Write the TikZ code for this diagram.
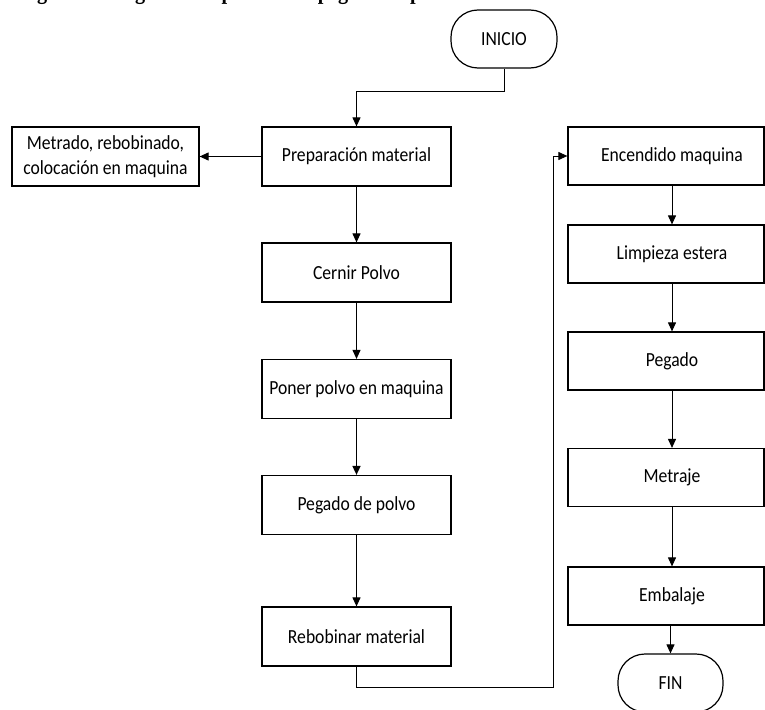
\documentclass[tikz,border=0pt]{standalone}
\usepackage{fontspec}
\setmainfont{Carlito}[FakeStretch=0.88]
\newfontfamily\titlefont{Liberation Serif}[FakeStretch=0.88]
\usetikzlibrary{arrows.meta}

\tikzset{
  box/.style={draw, line width=1.2pt, minimum width=189pt, minimum height=59pt,
    inner sep=2pt, align=center, font=\fontsize{20}{25}\selectfont},
  rbox/.style={box, minimum width=196pt, minimum height=58pt,
    execute at begin node={\hspace*{12pt}}},
  term/.style={draw, line width=1.2pt, rounded corners=27pt, minimum width=106pt,
    minimum height=58pt, font=\fontsize{20}{25}\selectfont},
  arr/.style={line width=1pt, -{Triangle[length=9pt,width=8pt]}},
}

\begin{document}
\begin{tikzpicture}[x=1pt, y=-1pt]
\useasboundingbox (0,0) rectangle (765,709);
\clip (0,0) rectangle (765,709);

% caption line above the chart
\node[anchor=base west, inner sep=0pt, font=\titlefont\bfseries\fontsize{23}{28}\selectfont]
  (title) at (19,-0.5) {Figura 1. Diagrama de proceso de pegado de polvo};

% start
\node[term] (ini) at (504,39) {INICIO};

% left column
\node[box] (prep) at (356.5,156.5) {Preparación material};
\node[box, minimum width=187pt] (metr) at (105.5,156.5) {Metrado, rebobinado,\\colocación en maquina};
\node[box] (cern) at (356.5,272.5) {Cernir Polvo};
\node[box] (pone) at (356.5,389) {Poner polvo en maquina};
\node[box] (pegp) at (356.5,505) {Pegado de polvo};
\node[box] (rebo) at (356.5,636.5) {Rebobinar material};

% right column
\node[rbox] (ence) at (666,156) {Encendido maquina};
\node[rbox] (limp) at (666,254) {Limpieza estera};
\node[rbox] (pega) at (666,361) {Pegado};
\node[rbox] (metj) at (666,477.5) {Metraje};
\node[rbox] (emba) at (666,596) {Embalaje};
\node[term, minimum width=105pt] (fin) at (670.5,683) {FIN};

% connectors
\draw[arr] (ini.south) -- ++(0,23) -| (prep.north);
\draw[arr] (prep.west) -- (metr.east);
\draw[arr] (prep.south) -- (cern.north);
\draw[arr] (cern.south) -- (pone.north);
\draw[arr, line width=1.6pt] (pone.south) -- (pegp.north);
\draw[arr] (pegp.south) -- (rebo.north);

\coordinate (turn) at (553,687);
\draw[arr] (rebo.south) |- (turn) |- (ence.west);

\draw[arr] ([xshift=6pt]ence.south) -- ([xshift=6pt]limp.north);
\draw[arr] ([xshift=6pt]limp.south) -- ([xshift=6pt]pega.north);
\draw[arr] ([xshift=6pt]pega.south) -- ([xshift=6pt]metj.north);
\draw[arr] ([xshift=6pt]metj.south) -- ([xshift=6pt]emba.north);
\draw[arr] ([xshift=6pt]emba.south) -- (emba.south -| fin.north) -- (fin.north);
\end{tikzpicture}
\end{document}
